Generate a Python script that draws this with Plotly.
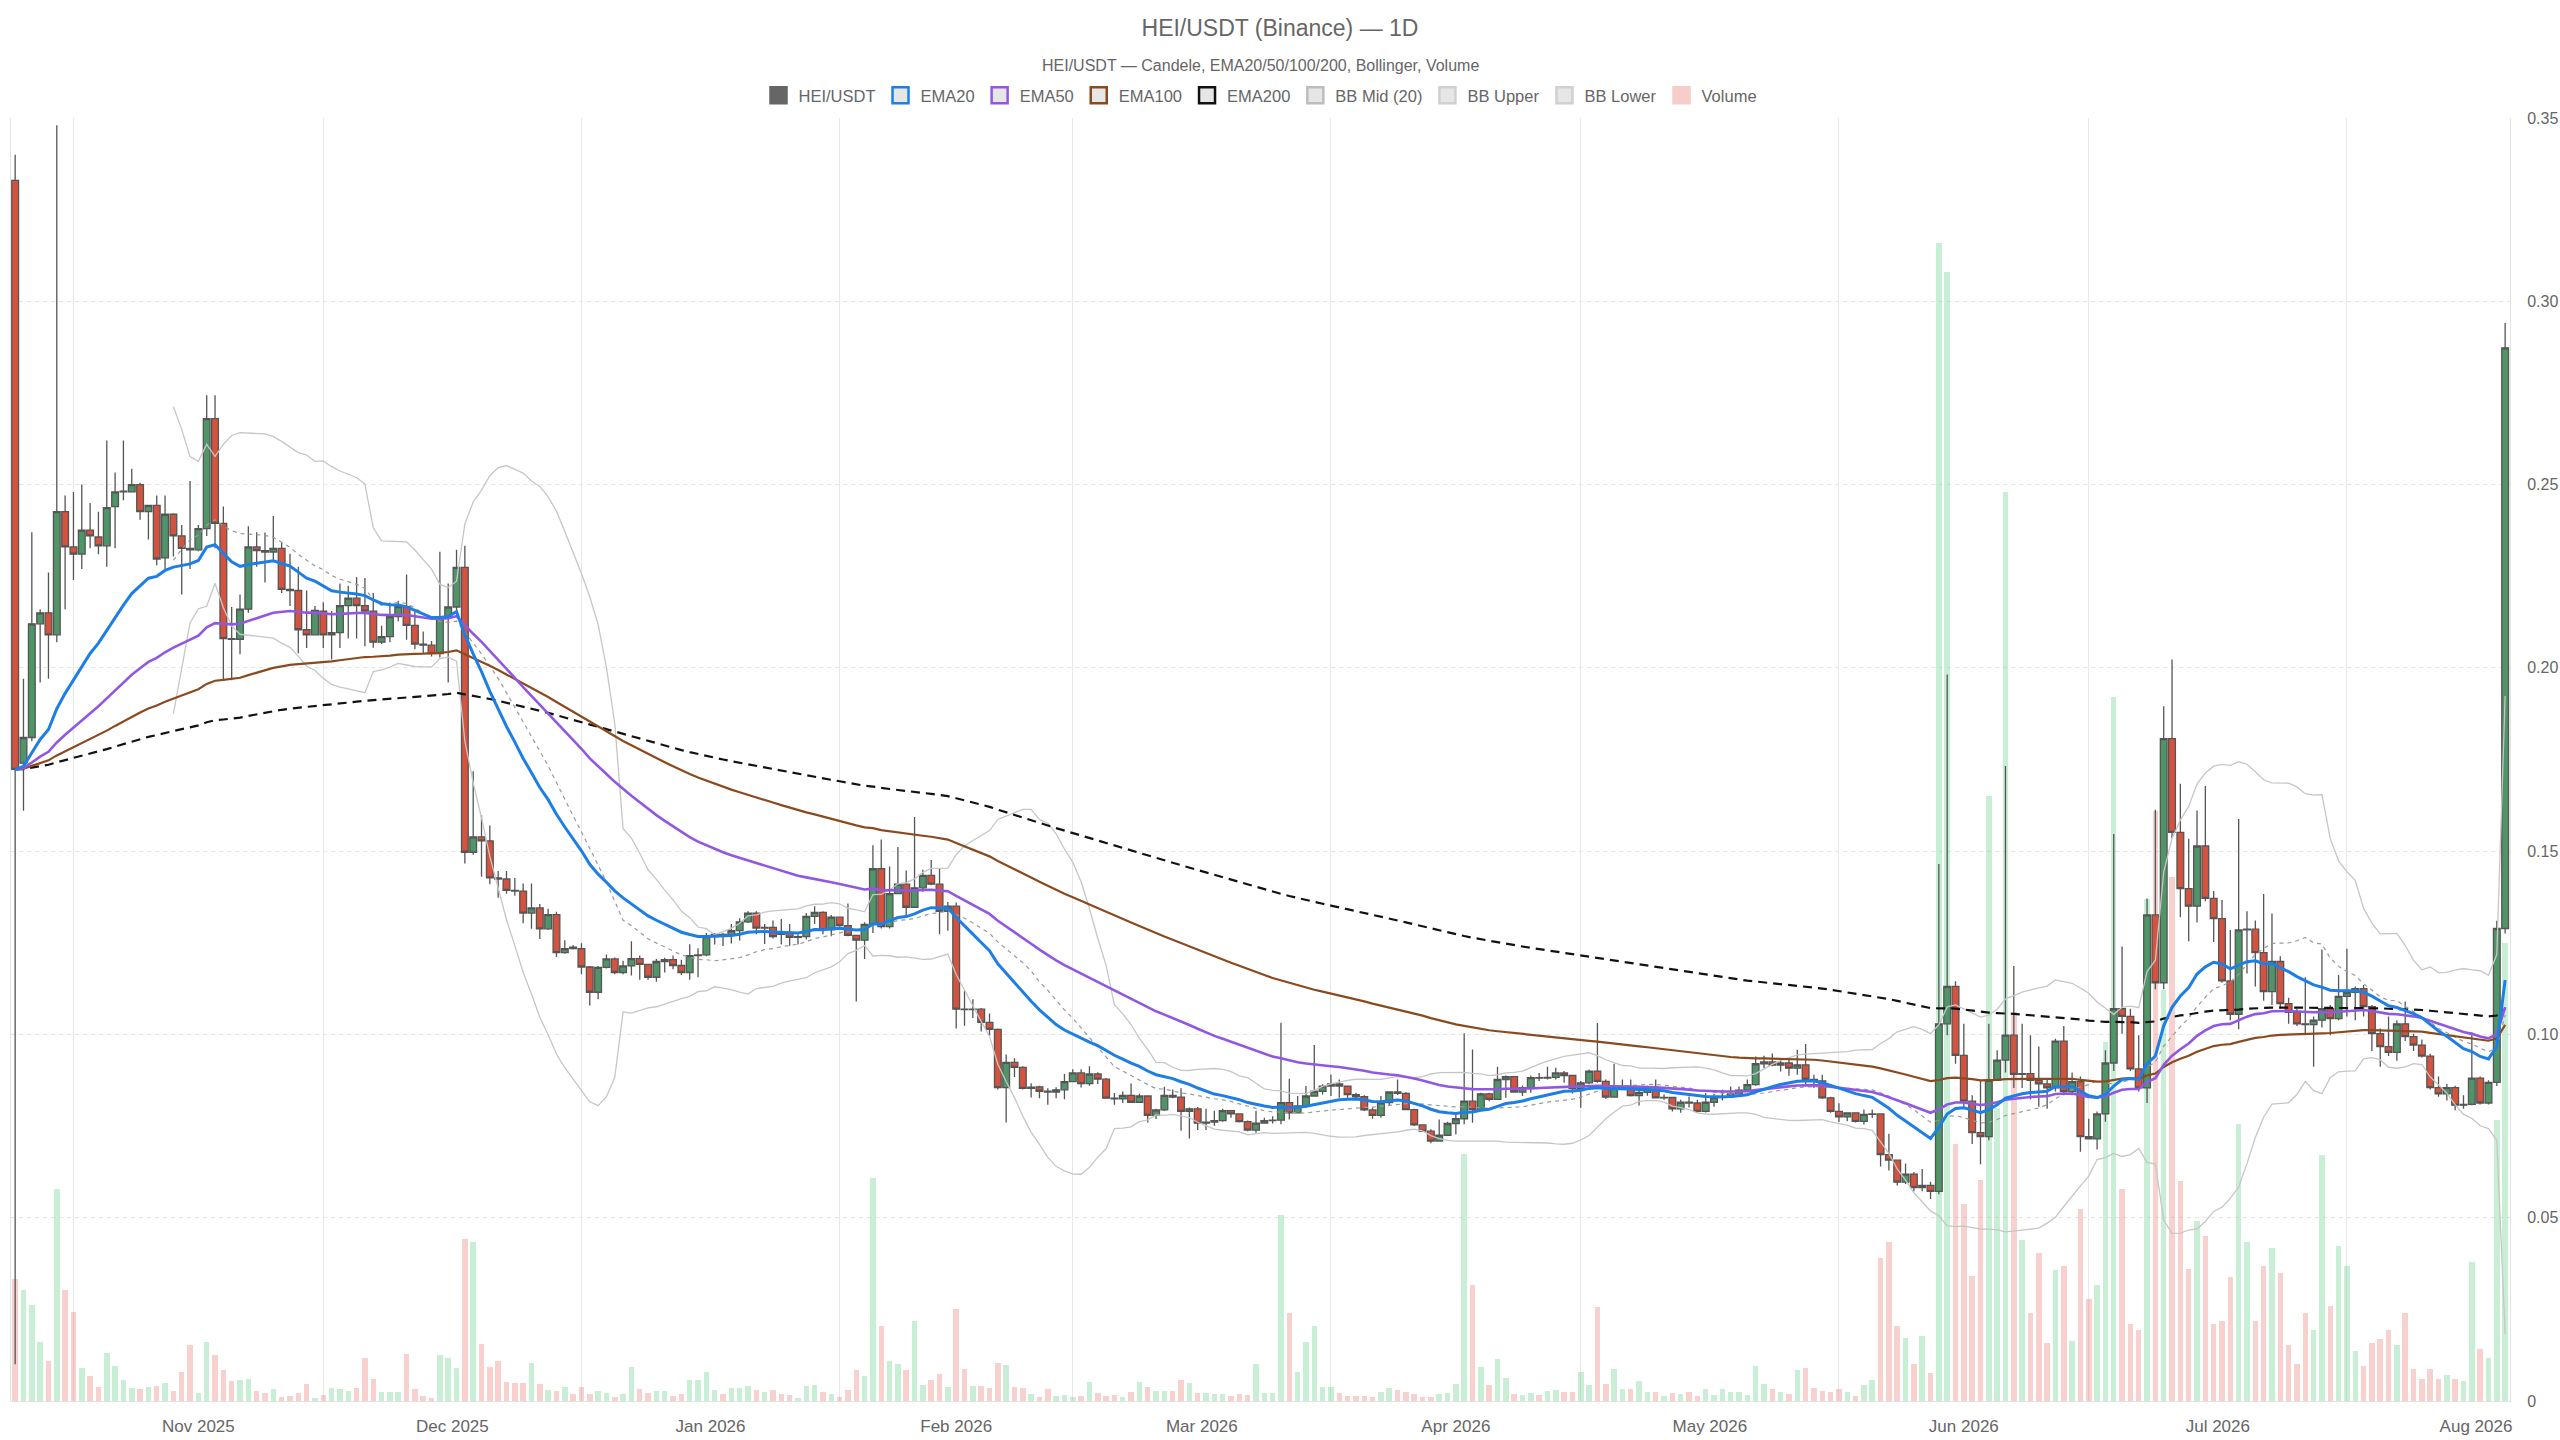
import pandas as pd
import plotly.graph_objects as go

# HEI/USDT daily candles, 2025-10-25 .. 2026-08-20 (one line per month)
start_date = "2025-10-25"
end_date = "2026-08-20"

open_ = [
    .333, .174, .181, .212, .215, .209, .2426,
    .233, .231, .2376, .2357, .2333, .244, .248, .248, .250, .2426, .2443, .230, .2419, .236, .2326, .2322, .238, .268, .2394, .208, .2078, .216, .233, .232, .2316, .2326, .2214, .2211, .2104, .209,
    .2155, .209, .2096, .217, .219, .217, .2155, .207, .2085, .214, .2167, .2116, .2065, .2062, .2039, .214, .2166, .2274, .1497, .1539, .1528, .1427, .1424, .1393, .1391, .1331, .1345, .1288, .1327, .1223, .1238,
    .1234, .1184, .1115, .1183, .1206, .1169, .1187, .1207, .1191, .1156, .1199, .1204, .1188, .1169, .1215, .1217, .1267, .1273, .1271, .1283, .1307, .1331, .129, .1292, .1278, .1277, .1265, .1267, .1322, .1333, .1285,
    .132, .1297, .127, .1257, .130, .1452, .1294, .1384, .141, .1347, .140, .1434, .141, .1336, .135, .1069, .1068, .1069, .1033, .1014, .0855, .0924, .091, .0853, .0857, .0845, .0843, .0849,
    .0871, .0895, .0866, .0892, .0878, .0826, .0824, .0834, .0815, .0832, .0779, .0794, .0834, .0829, .079, .0797, .0758, .0761, .0765, .0792, .0783, .0762, .0739, .0758, .0765, .0766, .0814, .0786, .0805, .0832, .0845,
    .0859, .0865, .0859, .0836, .083, .0794, .0779, .0814, .0843, .0839, .0795, .0753, .0736, .0709, .0725, .0757, .077, .0818, .0795, .0838, .0823, .0877, .0885, .0843, .0855, .0882, .0881, .0883, .0895, .0888,
    .0852, .0868, .090, .0872, .0829, .0854, .0857, .0833, .0842, .0851, .0827, .0828, .0797, .0815, .0813, .079, .0815, .0828, .083, .0838, .0848, .0863, .092, .0925, .0916, .0922, .0908, .0917, .0877, .0873, .0827,
    .079, .0775, .0786, .0763, .0782, .0783, .0672, .0657, .0597, .0619, .0582, .0588, .0572, .1029, .1131, .0943, .0818, .0732, .0721, .0875, .093, .0998, .0891, .0893, .0875, .0865, .0854, .0982, .0844, .0871,
    .0721, .0715, .0783, .0922, .107, .1049, .0906, .0854, .1326, .1141, .1807, .1551, .1398, .135, .1514, .1371, .1316, .1146, .1055, .1285, .1287, .1223, .1117, .1199, .1084, .106, .1029, .1027, .1039, .107, .1043,
    .1104, .1115, .1125, .1076, .1002, .0967, .0951, .1029, .0994, .0971, .0941, .0855, .0838, .0855, .0807, .0809, .0881, .0813, .0869, .1289,
]
high = [
    .340, .197, .237, .216, .226, .348, .247,
    .248, .250, .245, .2426, .262, .2533, .262, .2543, .2505, .2445, .247, .247, .2422, .239, .251, .239, .2744, .2744, .244, .2166, .220, .2386, .237, .2369, .2414, .2341, .2311, .2276, .2211, .2169,
    .2179, .2155, .223, .2224, .2248, .2245, .2204, .2115, .2178, .2183, .2255, .2155, .2099, .2073, .2317, .223, .2322, .2333, .1718, .1598, .157, .1446, .1446, .1427, .1412, .1412, .1356, .1343, .1335, .1257, .1244,
    .1249, .1187, .1187, .1218, .121, .1201, .1254, .1215, .1193, .1206, .1209, .1215, .1204, .1246, .1235, .1277, .1277, .1277, .1301, .1317, .1336, .1336, .1301, .1311, .1315, .1301, .1273, .1331, .135, .1336, .1326,
    .1322, .1357, .1271, .1306, .1516, .1532, .1458, .1511, .1447, .1593, .1449, .1476, .1451, .1361, .136, .112, .1096, .1072, .1057, .1016, .0945, .0935, .0913, .0867, .086, .0853, .0856, .0892,
    .0905, .0905, .0913, .0897, .0881, .084, .0844, .0866, .0838, .0834, .0797, .0857, .085, .0853, .0801, .0802, .0797, .0792, .0797, .0794, .0783, .0765, .0792, .0773, .0777, .1032, .0879, .0832, .0859, .0971, .0864,
    .0891, .0877, .0861, .0841, .0834, .080, .0832, .0845, .0877, .0843, .0797, .0755, .0741, .0768, .0762, .0782, .1003, .0959, .0841, .0841, .0912, .0888, .0886, .0861, .0888, .0895, .0912, .0909, .090, .0888,
    .0873, .0904, .1031, .0877, .092, .0877, .0877, .086, .086, .0877, .0836, .083, .0822, .0831, .0822, .084, .0838, .0849, .0858, .0858, .0877, .094, .0942, .0948, .0928, .093, .0958, .0974, .089, .089, .083,
    .0812, .0787, .0787, .0795, .0795, .0783, .0729, .0657, .0648, .0625, .0633, .0598, .1465, .1982, .1145, .1029, .0834, .0875, .1029, .0957, .1732, .1187, .1029, .0998, .0967, .0879, .0988, .1023, .0896, .0885,
    .077, .079, .0957, .1547, .124, .107, .0998, .1371, .1613, .1895, .2023, .1684, .1534, .1611, .1678, .1391, .1367, .1285, .1588, .1336, .1311, .1383, .133, .1213, .110, .107, .1156, .1049, .1232, .108, .1162,
    .1234, .1131, .1135, .108, .1016, .1049, .1039, .109, .1002, .0986, .0947, .0885, .0865, .086, .0834, .1006, .0885, .0875, .131, .2941,
]
low = [
    .010, .161, .180, .196, .197, .207, .216,
    .224, .227, .2326, .231, .2276, .2326, .2457, .248, .2404, .235, .228, .227, .2304, .220, .227, .2318, .236, .2326, .1966, .1966, .2037, .215, .2276, .2233, .229, .2204, .2169, .204, .2054, .209,
    .2054, .2023, .2054, .208, .208, .2059, .2055, .2065, .207, .2127, .2077, .2051, .2039, .2031, .2028, .196, .2148, .1466, .149, .143, .141, .1373, .1384, .1378, .1303, .1288, .126, .1285, .1211, .122, .1232,
    .1164, .1079, .1096, .118, .1164, .1164, .1161, .1149, .1149, .1144, .1169, .1178, .1162, .1149, .1156, .1213, .1245, .1241, .1248, .1256, .1304, .1273, .1247, .1262, .1245, .1242, .1245, .1259, .1301, .1273, .1268,
    .1294, .1268, .109, .1206, .1277, .1289, .1289, .1383, .1326, .1346, .1389, .1407, .1273, .1283, .1016, .1024, .1045, .1008, .0997, .085, .076, .0884, .085, .0828, .0826, .0808, .0826, .0823,
    .0871, .0855, .086, .0865, .0826, .0808, .0813, .0815, .0813, .076, .0769, .0791, .0826, .0737, .0716, .0739, .0739, .0751, .0762, .0773, .076, .0736, .0732, .0756, .0757, .0755, .0768, .0786, .080, .0832, .0836,
    .0832, .0827, .0827, .0823, .0791, .077, .0773, .0807, .0835, .0793, .075, .0734, .0703, .0707, .0724, .0727, .0755, .0759, .0791, .0818, .0821, .0827, .0841, .0832, .0841, .0873, .0877, .0877, .0868, .0839,
    .080, .0864, .0868, .0824, .0827, .085, .0831, .0806, .0833, .0825, .0822, .079, .0786, .0801, .0787, .0787, .0803, .082, .0828, .0836, .0845, .086, .0908, .0913, .0899, .0887, .089, .0864, .0854, .0824, .0786,
    .0761, .0763, .076, .0754, .0772, .064, .0629, .0588, .0592, .0572, .0572, .0551, .0564, .0998, .092, .0803, .0701, .0646, .0711, .0875, .0896, .0854, .0854, .0823, .0803, .0797, .0844, .0834, .0834, .068,
    .0715, .0686, .0762, .090, .1002, .090, .0844, .0813, .1123, .1123, .1535, .132, .1254, .1305, .1363, .1252, .1141, .1039, .1014, .1166, .1131, .1092, .108, .107, .1029, .1023, .0998, .0912, .1019, .0998, .1039,
    .1049, .1039, .1049, .0955, .0912, .0941, .0928, .0982, .0955, .0937, .085, .083, .082, .0793, .0797, .0807, .0809, .0809, .0859, .1275,
]
close = [
    .1723, .181, .212, .215, .209, .2426, .233,
    .231, .2376, .236, .2333, .2437, .248, .2482, .250, .2426, .2443, .2297, .2419, .236, .2326, .2322, .238, .268, .2394, .208, .2078, .216, .233, .232, .2316, .2326, .2214, .2211, .2104, .209, .2157,
    .209, .2096, .217, .219, .217, .2155, .207, .2085, .214, .2167, .2116, .2065, .2062, .2039, .214, .2166, .2274, .1497, .1539, .1528, .1427, .1424, .1393, .1391, .1331, .1345, .1288, .1327, .1223, .1234, .1234,
    .1184, .1115, .1183, .1206, .1169, .1187, .1207, .1191, .1156, .1199, .1204, .1188, .1169, .1215, .1217, .1267, .1273, .1271, .1283, .1307, .1331, .129, .1292, .1267, .1273, .1265, .1267, .1322, .1333, .1285, .132,
    .1297, .127, .1257, .130, .1452, .1294, .1384, .141, .1347, .140, .1434, .141, .1336, .135, .1069, .1068, .1069, .1033, .1014, .0855, .0924, .091, .0853, .0856, .0845, .0843, .0849, .0871,
    .0895, .0866, .0892, .0878, .0826, .0824, .0834, .0815, .0832, .0779, .0794, .0834, .0829, .079, .0797, .0758, .0761, .0765, .0792, .0783, .0762, .0739, .0758, .0765, .0766, .0814, .0786, .0805, .0832, .0845, .0859,
    .0865, .0859, .0836, .083, .0794, .0779, .0814, .0843, .0839, .0795, .0753, .0736, .0709, .0725, .0757, .077, .0818, .0795, .0838, .0823, .0877, .0885, .0843, .0855, .0882, .0881, .0883, .0895, .0888, .0852,
    .0868, .090, .0872, .0829, .0854, .0857, .0833, .0842, .0851, .0827, .0828, .0797, .0815, .0813, .079, .0815, .0828, .083, .0838, .0848, .0863, .092, .0925, .0916, .0922, .0908, .0917, .0877, .0873, .0827, .079,
    .0775, .0786, .0763, .0782, .0783, .0672, .0657, .0597, .0619, .0582, .0588, .0572, .1029, .1131, .0943, .0818, .0732, .0721, .0875, .093, .0998, .0891, .0893, .0875, .0865, .0854, .0982, .0844, .0871, .0721,
    .0715, .0783, .0922, .107, .1049, .0906, .0854, .1326, .1141, .1807, .1551, .1398, .135, .1514, .1371, .1316, .1146, .1055, .1285, .1287, .1223, .1117, .1199, .1084, .106, .1029, .1027, .1039, .107, .1043, .1104,
    .1115, .1125, .1076, .1002, .0967, .0951, .1029, .0994, .0971, .0941, .0855, .0838, .0855, .0807, .0809, .0881, .0813, .0869, .1289, .2873,
]
# volume in millions of HEI (the volume axis is hidden)
volume = [
    3.33, 3.04, 2.63, 1.62, 1.10, 5.79, 3.04,
    2.43, 0.89, 0.68, 0.37, 1.32, 0.96, 0.57, 0.36, 0.32, 0.39, 0.42, 0.48, 0.28, 0.80, 1.53, 0.21, 1.60, 1.26, 0.85, 0.55, 0.57, 0.60, 0.26, 0.21, 0.32, 0.11, 0.14, 0.21, 0.46, 0.07,
    0.16, 0.36, 0.33, 0.28, 0.36, 1.16, 0.59, 0.25, 0.25, 0.25, 1.28, 0.33, 0.15, 0.08, 1.25, 1.16, 0.90, 4.41, 4.33, 1.55, 0.93, 1.08, 0.51, 0.48, 0.48, 1.05, 0.46, 0.31, 0.28, 0.39, 0.20,
    0.39, 0.20, 0.28, 0.23, 0.12, 0.20, 0.93, 0.32, 0.21, 0.26, 0.26, 0.13, 0.18, 0.56, 0.56, 0.79, 0.29, 0.18, 0.35, 0.35, 0.40, 0.29, 0.24, 0.29, 0.18, 0.16, 0.07, 0.42, 0.45, 0.24, 0.18,
    0.10, 0.29, 0.84, 0.67, 6.08, 2.04, 1.08, 1.00, 0.84, 2.17, 0.45, 0.56, 0.74, 0.37, 2.50, 0.88, 0.42, 0.42, 0.35, 1.05, 0.98, 0.37, 0.35, 0.18, 0.11, 0.32, 0.14, 0.16,
    0.11, 0.14, 0.53, 0.21, 0.14, 0.16, 0.11, 0.24, 0.51, 0.37, 0.26, 0.26, 0.26, 0.56, 0.48, 0.21, 0.21, 0.18, 0.18, 0.13, 0.18, 0.16, 1.00, 0.21, 0.23, 5.07, 2.41, 0.80, 1.62, 2.05, 0.39,
    0.39, 0.21, 0.14, 0.14, 0.14, 0.12, 0.25, 0.36, 0.30, 0.24, 0.19, 0.12, 0.12, 0.18, 0.21, 0.46, 6.75, 3.16, 0.94, 0.44, 1.14, 0.62, 0.19, 0.16, 0.21, 0.16, 0.27, 0.30, 0.24, 0.24,
    0.80, 0.44, 2.57, 0.46, 0.86, 0.34, 0.32, 0.55, 0.25, 0.25, 0.14, 0.23, 0.18, 0.24, 0.14, 0.34, 0.16, 0.33, 0.24, 0.24, 0.16, 0.96, 0.46, 0.32, 0.24, 0.19, 0.84, 0.89, 0.36, 0.27, 0.25,
    0.33, 0.24, 0.15, 0.45, 0.57, 3.90, 4.34, 2.04, 1.72, 1.02, 1.78, 0.76, 31.6, 30.8, 7.0, 5.37, 3.42, 6.02, 16.5, 8.0, 24.8, 10.6, 4.39, 2.40, 4.03, 1.58, 3.57, 3.69, 1.64, 5.23,
    2.77, 3.16, 9.8, 19.2, 5.78, 2.09, 1.95, 13.7, 16.1, 11.2, 14.3, 5.99, 3.60, 4.90, 4.49, 2.09, 2.19, 3.38, 7.56, 4.34, 2.19, 3.67, 4.18, 3.48, 1.52, 1.02, 2.40, 1.93, 6.70, 2.60, 4.24,
    3.67, 1.37, 0.96, 1.58, 1.68, 1.93, 1.52, 2.40, 0.86, 0.59, 0.86, 0.61, 0.70, 0.59, 0.55, 3.79, 1.43, 1.17, 7.66, 12.5,
]

price_ticks = [0, 0.05, 0.10, 0.15, 0.20, 0.25, 0.30, 0.35]
price_labels = ["0", "0.05", "0.10", "0.15", "0.20", "0.25", "0.30", "0.35"]

dates = pd.date_range(start_date, end_date, freq="D")
df = pd.DataFrame({"Open": open_, "High": high, "Low": low,
                   "Close": close, "Volume": volume}, index=dates)

# indicators
for n in (20, 50, 100, 200):
    df[f"EMA{n}"] = df["Close"].ewm(span=n, adjust=False).mean()
df["BB_mid"] = df["Close"].rolling(20).mean()
bb_std = df["Close"].rolling(20).std(ddof=0)
df["BB_up"] = df["BB_mid"] + 2 * bb_std
df["BB_low"] = df["BB_mid"] - 2 * bb_std

GREEN = "#4f9568"
RED = "#d4533f"
vol_colors = ["rgba(76,200,120,0.30)" if c >= o else "rgba(232,100,88,0.30)"
              for o, c in zip(df["Open"], df["Close"])]

fig = go.Figure()

fig.add_trace(go.Bar(x=df.index, y=df["Volume"], marker_color=vol_colors,
                     marker_line_width=0, width=0.66 * 86400000,
                     yaxis="y", showlegend=False, name="Volume"))

bb_line = dict(color="#c6c6c6", width=1.3)
fig.add_trace(go.Scatter(x=df.index, y=df["BB_up"], mode="lines", line=bb_line,
                         yaxis="y2", showlegend=False, name="BB Upper"))
fig.add_trace(go.Scatter(x=df.index, y=df["BB_low"], mode="lines", line=bb_line,
                         yaxis="y2", showlegend=False, name="BB Lower"))
fig.add_trace(go.Scatter(x=df.index, y=df["BB_mid"], mode="lines",
                         line=dict(color="#9a9a9a", width=1.2, dash="4px,4px"),
                         yaxis="y2", showlegend=False, name="BB Mid (20)"))

ema_style = {
    "EMA200": dict(color="#111111", width=2.2, dash="9px,6px"),
    "EMA100": dict(color="#8b4a1e", width=2.2),
    "EMA50": dict(color="#9157e3", width=2.6),
    "EMA20": dict(color="#1d7fe6", width=3),
}
for name, ln in ema_style.items():
    fig.add_trace(go.Scatter(x=df.index, y=df[name], mode="lines", line=ln,
                             yaxis="y2", showlegend=False, name=name))

fig.add_trace(go.Candlestick(
    x=df.index, open=df["Open"], high=df["High"], low=df["Low"], close=df["Close"],
    increasing=dict(fillcolor=GREEN, line=dict(color="#555555", width=1.3)),
    decreasing=dict(fillcolor=RED, line=dict(color="#555555", width=1.3)),
    yaxis="y2", showlegend=False, name="HEI/USDT"))

# legend boxes like the original
legend_items = [
    ("HEI/USDT", "#666666", "#666666"),
    ("EMA20", "#e6e6e6", "#1d7fe6"),
    ("EMA50", "#e6e6e6", "#9157e3"),
    ("EMA100", "#e6e6e6", "#8b4a1e"),
    ("EMA200", "#e6e6e6", "#111111"),
    ("BB Mid (20)", "#e6e6e6", "#bdbdbd"),
    ("BB Upper", "#e6e6e6", "#d0d0d0"),
    ("BB Lower", "#e6e6e6", "#d0d0d0"),
    ("Volume", "#f6cdc8", "#f6cdc8"),
]
for name, fill, border in legend_items:
    fig.add_trace(go.Scatter(x=[None], y=[None], mode="markers", name=name,
                             marker=dict(symbol="square", size=17, color=fill,
                                         line=dict(color=border, width=2.5)),
                             yaxis="y2"))

fig.update_layout(
    width=2560,
    height=1440,
    font=dict(family="Liberation Sans, Arial, sans-serif", color="#666666"),
    paper_bgcolor="white",
    plot_bgcolor="white",
    margin=dict(l=11, r=50, t=118, b=39),
    title=dict(text="HEI/USDT (Binance) — 1D", x=0.5, xanchor="center",
               yref="container", y=1 - 28 / 1440, yanchor="middle",
               font=dict(size=23, color="#666666")),
    annotations=[dict(text="HEI/USDT — Candele, EMA20/50/100/200, Bollinger, Volume",
                      xref="paper", yref="paper", x=0.5, y=1.041,
                      xanchor="center", yanchor="middle", showarrow=False,
                      font=dict(size=16, color="#666666"))],
    legend=dict(orientation="h", x=0.5, xanchor="center", y=1.0176, yanchor="middle",
                font=dict(size=16.5, color="#666666"), itemclick=False,
                itemdoubleclick=False, tracegroupgap=0),
    showlegend=True,
    bargap=0,
    boxgap=0.1,
    boxgroupgap=0.1,
    xaxis=dict(type="date", range=["2025-10-24 12:00", "2026-08-20 14:00"],
               dtick="M1", tick0="2025-11-01", tickformat="%b %Y",
               ticklabelmode="period", showgrid=True, gridcolor="#e8e8e8",
               showline=True, linecolor="#e3e3e3", ticks="", zeroline=False,
               ticklabelstandoff=10, automargin=False,
               tickfont=dict(size=17, color="#666666"),
               rangeslider=dict(visible=False)),
    yaxis=dict(range=[0, 35], showticklabels=False, showgrid=False, zeroline=False,
               showline=True, linecolor="#e3e3e3", ticks="", automargin=False),
    yaxis2=dict(overlaying="y", side="right", range=[0, 0.35],
                tickvals=price_ticks, ticktext=price_labels,
                showgrid=True, gridcolor="#e6e6e6", griddash="4px,4px",
                zeroline=False, showline=True, linecolor="#e3e3e3", ticks="",
                ticklabelstandoff=13, automargin=False,
                tickfont=dict(size=16, color="#666666")),
)

# page without the default body margin so the 2560x1440 figure fills the window
fig.write_html("out.html", config={"displayModeBar": False}, post_script=(
    "document.body.style.margin='0';"
    "document.documentElement.style.overflow='hidden';"
    "document.body.style.overflow='hidden';"))
